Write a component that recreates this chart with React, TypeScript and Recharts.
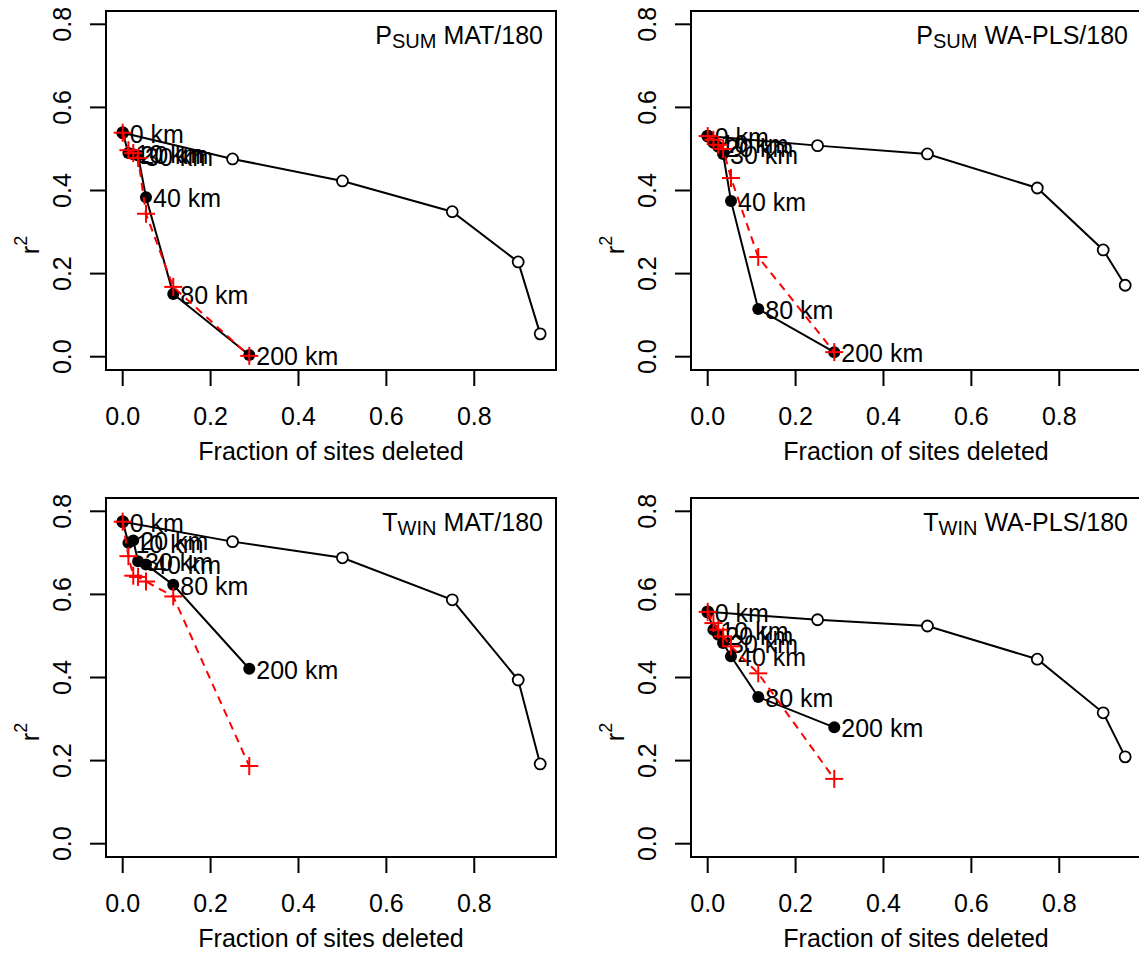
import React from "react";
import { ScatterChart, Scatter, XAxis, YAxis, ReferenceArea, Customized } from "recharts";

// ---------- data ----------
const X_HBLOCK = [0, 0.013, 0.024, 0.035, 0.053, 0.115, 0.288];
const HBLOCK_LABELS = ["0 km", "10 km", "20 km", "30 km", "40 km", "80 km", "200 km"];
const X_RANDOM = [0, 0.25, 0.5, 0.75, 0.9, 0.95];
const X_TICKS = [0, 0.2, 0.4, 0.6, 0.8];
const Y_TICKS = [0, 0.2, 0.4, 0.6, 0.8];

// P_SUM MAT/180
const PSUM_MAT_HBLOCK = [0.539, 0.49, 0.487, 0.484, 0.384, 0.151, 0.004];
const PSUM_MAT_MATCHED = [0.539, 0.497, 0.49, 0.478, 0.344, 0.168, 0.002];
const PSUM_MAT_RANDOM = [0.539, 0.476, 0.423, 0.349, 0.228, 0.055];

// P_SUM WA-PLS/180
const PSUM_WAPLS_HBLOCK = [0.531, 0.515, 0.505, 0.488, 0.375, 0.115, 0.011];
const PSUM_WAPLS_MATCHED = [0.531, 0.522, 0.51, 0.5, 0.43, 0.24, 0.011];
const PSUM_WAPLS_RANDOM = [0.531, 0.508, 0.488, 0.406, 0.257, 0.172];

// T_WIN MAT/180
const TWIN_MAT_HBLOCK = [0.775, 0.724, 0.73, 0.68, 0.672, 0.623, 0.421];
const TWIN_MAT_MATCHED = [0.775, 0.692, 0.645, 0.642, 0.631, 0.595, 0.187];
const TWIN_MAT_RANDOM = [0.775, 0.727, 0.688, 0.587, 0.394, 0.192];

// T_WIN WA-PLS/180
const TWIN_WAPLS_HBLOCK = [0.558, 0.515, 0.503, 0.483, 0.451, 0.353, 0.28];
const TWIN_WAPLS_MATCHED = [0.558, 0.531, 0.515, 0.499, 0.475, 0.41, 0.156];
const TWIN_WAPLS_RANDOM = [0.558, 0.539, 0.524, 0.444, 0.315, 0.209];

// ---------- layout ----------
const FONT = "'Liberation Sans', Arial, Helvetica, sans-serif";
const FS = 25;
const CHART_W = 569;
const CHART_H = 477;
const M = { top: 11, right: 13, bottom: 47, left: 46 };
const Y_AXIS_W = 60;
const X_AXIS_H = 60;
const PLOT_LEFT = M.left + Y_AXIS_W;
const PLOT_TOP = M.top;
const PLOT_RIGHT = CHART_W - M.right;
const PLOT_BOTTOM = CHART_H - M.bottom - X_AXIS_H;
const X_DOMAIN: [number, number] = [-0.038, 0.986];
const Y_DOMAIN: [number, number] = [-0.032, 0.832];

const XTick = (props: any) => (
  <text x={props.x} y={PLOT_BOTTOM + 55} textAnchor="middle" fontSize={FS} fontFamily={FONT} fill="#000">
    {Number(props.payload.value).toFixed(1)}
  </text>
);

const YTick = (props: any) => {
  const cx = PLOT_LEFT - 44;
  return (
    <text
      x={cx}
      y={props.y}
      transform={`rotate(-90 ${cx} ${props.y})`}
      textAnchor="middle"
      dominantBaseline="central"
      fontSize={FS}
      fontFamily={FONT}
      fill="#000"
    >
      {Number(props.payload.value).toFixed(1)}
    </text>
  );
};

const OpenCircle = (p: any) => <circle cx={p.cx} cy={p.cy} r={5.5} fill="#fff" stroke="#000" strokeWidth={1.8} />;

const FilledLabelled = (p: any) => (
  <g>
    <circle cx={p.cx} cy={p.cy} r={6} fill="#000" />
    <text x={p.cx + 7} y={p.cy + 1} dominantBaseline="central" fontSize={FS} fontFamily={FONT} fill="#000">
      {p.payload.label}
    </text>
  </g>
);

const RedPlus = (p: any) => (
  <g stroke="#ff0000" strokeWidth={2}>
    <line x1={p.cx - 9} y1={p.cy} x2={p.cx + 9} y2={p.cy} />
    <line x1={p.cx} y1={p.cy - 9} x2={p.cx} y2={p.cy + 9} />
  </g>
);

type PanelProps = {
  left: number;
  top: number;
  main: string;
  sub: string;
  rest: string;
  hblock: number[];
  matched: number[];
  random: number[];
};

const Panel = ({ left, top, main, sub, rest, hblock, matched, random }: PanelProps) => {
  const hbData = hblock.map((y, i) => ({ x: X_HBLOCK[i], y, label: HBLOCK_LABELS[i] }));
  const mData = matched.map((y, i) => ({ x: X_HBLOCK[i], y }));
  const rData = random.map((y, i) => ({ x: X_RANDOM[i], y }));
  const Texts = () => (
    <g fontFamily={FONT} fill="#000">
      <text x={PLOT_RIGHT - 13} y={PLOT_TOP + 33} textAnchor="end" fontSize={FS}>
        {main}
        <tspan fontSize={20} dy={4}>
          {sub}
        </tspan>
        <tspan dy={-4}>{" " + rest}</tspan>
      </text>
      <text x={(PLOT_LEFT + PLOT_RIGHT) / 2} y={PLOT_BOTTOM + 90} textAnchor="middle" fontSize={FS}>
        Fraction of sites deleted
      </text>
      <text
        x={30}
        y={245}
        transform={`rotate(-90 30 245)`}
        textAnchor="middle"
        dominantBaseline="central"
        fontSize={FS}
      >
        r<tspan fontSize={18} dy={-9}>2</tspan>
      </text>
    </g>
  );
  return (
    <div style={{ position: "absolute", left, top, width: CHART_W, height: CHART_H }}>
      <ScatterChart width={CHART_W} height={CHART_H} margin={M}>
        <XAxis
          type="number"
          dataKey="x"
          domain={X_DOMAIN}
          ticks={X_TICKS}
          allowDataOverflow
          axisLine={false}
          tickSize={16}
          tickLine={{ stroke: "#000", strokeWidth: 2 }}
          tick={<XTick />}
          height={X_AXIS_H}
        />
        <YAxis
          type="number"
          dataKey="y"
          domain={Y_DOMAIN}
          ticks={Y_TICKS}
          allowDataOverflow
          axisLine={false}
          tickSize={16}
          tickLine={{ stroke: "#000", strokeWidth: 2 }}
          tick={<YTick />}
          width={Y_AXIS_W}
        />
        <ReferenceArea
          x1={X_DOMAIN[0]}
          x2={X_DOMAIN[1]}
          y1={Y_DOMAIN[0]}
          y2={Y_DOMAIN[1]}
          fill="none"
          fillOpacity={0}
          stroke="#000"
          strokeWidth={2}
          ifOverflow="visible"
        />
        <Scatter
          data={rData}
          line={{ stroke: "#000", strokeWidth: 2 }}
          lineType="joint"
          shape={OpenCircle}
          isAnimationActive={false}
        />
        <Scatter
          data={hbData}
          line={{ stroke: "#000", strokeWidth: 2 }}
          lineType="joint"
          shape={FilledLabelled}
          isAnimationActive={false}
        />
        <Scatter
          data={mData}
          line={{ stroke: "#ff0000", strokeWidth: 2, strokeDasharray: "8 6" }}
          lineType="joint"
          shape={RedPlus}
          isAnimationActive={false}
        />
        <Customized component={Texts} />
      </ScatterChart>
    </div>
  );
}

export default function App() {
  return (
    <div
      style={{
        position: "absolute",
        left: 0,
        top: 0,
        width: 1139,
        height: 954,
        overflow: "hidden",
        background: "#fff",
      }}
    >
      <Panel left={0} top={0} main="P" sub="SUM" rest="MAT/180" hblock={PSUM_MAT_HBLOCK} matched={PSUM_MAT_MATCHED} random={PSUM_MAT_RANDOM} />
      <Panel left={585} top={0} main="P" sub="SUM" rest="WA-PLS/180" hblock={PSUM_WAPLS_HBLOCK} matched={PSUM_WAPLS_MATCHED} random={PSUM_WAPLS_RANDOM} />
      <Panel left={0} top={487} main="T" sub="WIN" rest="MAT/180" hblock={TWIN_MAT_HBLOCK} matched={TWIN_MAT_MATCHED} random={TWIN_MAT_RANDOM} />
      <Panel left={585} top={487} main="T" sub="WIN" rest="WA-PLS/180" hblock={TWIN_WAPLS_HBLOCK} matched={TWIN_WAPLS_MATCHED} random={TWIN_WAPLS_RANDOM} />
    </div>
  );
}
